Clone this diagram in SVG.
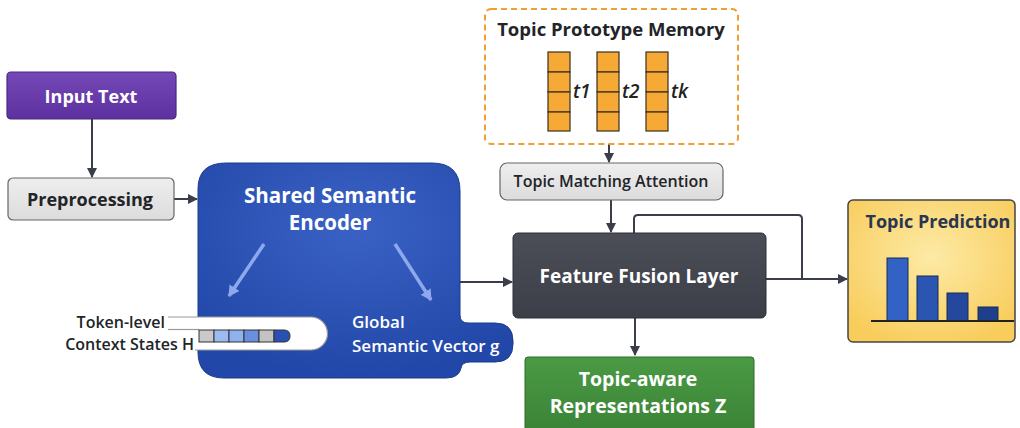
<svg xmlns="http://www.w3.org/2000/svg" width="1020" height="428" viewBox="0 0 1020 428">
<defs>
<linearGradient id="gPurple" x1="0" y1="0" x2="0" y2="1"><stop offset="0" stop-color="#7548b8"/><stop offset="1" stop-color="#5c309f"/></linearGradient>
<linearGradient id="gGray" x1="0" y1="0" x2="0" y2="1"><stop offset="0" stop-color="#eeeeee"/><stop offset="1" stop-color="#dcdcdc"/></linearGradient>
<radialGradient id="gBlue" cx="0.5" cy="0.3" r="0.7"><stop offset="0" stop-color="#3a62c4"/><stop offset="1" stop-color="#2147a8"/></radialGradient>
<linearGradient id="gDark" x1="0" y1="0" x2="0" y2="1"><stop offset="0" stop-color="#4b4d57"/><stop offset="1" stop-color="#3c3e48"/></linearGradient>
<linearGradient id="gGreen" x1="0" y1="0" x2="0" y2="1"><stop offset="0" stop-color="#4a9a44"/><stop offset="1" stop-color="#3a8236"/></linearGradient>
<radialGradient id="gYellow" cx="0.5" cy="0.4" r="0.65"><stop offset="0" stop-color="#fdeaa6"/><stop offset="1" stop-color="#f8cd5c"/></radialGradient>
<marker id="arr" markerWidth="10" markerHeight="10" refX="9" refY="5" orient="auto" markerUnits="userSpaceOnUse"><path d="M0,0 L10,5 L0,10 Z" fill="#3a3d4a"/></marker>
<marker id="arrL" markerWidth="12" markerHeight="12" refX="10" refY="6" orient="auto" markerUnits="userSpaceOnUse"><path d="M0,0 L11,6 L0,12 Z" fill="#8ea8ee"/></marker>
</defs>
<style>
text{font-family:"Open Sans","Liberation Sans",sans-serif;}
.w{fill:#ffffff;font-weight:700;text-anchor:middle;}
.d{fill:#222428;font-weight:700;text-anchor:middle;}
.s{fill:#222428;font-weight:600;}
.con{fill:none;stroke:#3a3d4a;stroke-width:2;}
.cell{fill:#f6a935;stroke:#3a3020;stroke-width:1.2;}
.bar{stroke:#1a2a55;stroke-width:1;}
.lbl{font-size:19px;font-style:italic;font-weight:600;fill:#222;}
</style>
<rect width="1020" height="428" fill="#ffffff"/>

<g id="connectors">
<line class="con" x1="92" y1="119" x2="92" y2="177" marker-end="url(#arr)"/>
<line class="con" x1="174" y1="199" x2="197" y2="199" marker-end="url(#arr)"/>
<line class="con" x1="460" y1="282" x2="512" y2="282" marker-end="url(#arr)"/>
<line class="con" x1="609" y1="144" x2="609" y2="162" marker-end="url(#arr)"/>
<line class="con" x1="611" y1="200" x2="611" y2="232" marker-end="url(#arr)"/>
<path class="con" d="M634,233 V219 Q634,215 638,215 H798 Q802,215 802,219 V279"/>
<line class="con" x1="766" y1="279" x2="847" y2="279" marker-end="url(#arr)"/>
<line class="con" x1="635" y1="318" x2="635" y2="355" marker-end="url(#arr)"/>
</g>

<g id="input-text">
<rect x="7" y="72" width="169" height="47" rx="4" fill="url(#gPurple)" stroke="#4a2880" stroke-width="1.2"/>
<text class="w" x="91" y="103" font-size="18">Input Text</text>
</g>

<g id="preprocessing">
<rect x="8" y="178" width="166" height="42" rx="5" fill="url(#gGray)" stroke="#666" stroke-width="1.2"/>
<text class="d" x="90" y="206" font-size="18">Preprocessing</text>
</g>

<g id="shared-semantic-encoder">
<path d="M226,163 H432 Q460,163 460,191 V315 Q460,323 468,323 H495 Q513,323 513,341 V344 Q513,362 495,362 H470 Q462,362 461,368 Q459,378 446,378 H224 Q198,378 198,352 V189 Q198,163 226,163 Z" fill="url(#gBlue)" stroke="#1a3a8c" stroke-width="1"/>
<text class="w" x="330" y="203" font-size="20.5">Shared Semantic</text>
<text class="w" x="330" y="230" font-size="20.5">Encoder</text>
<line x1="264" y1="244" x2="229" y2="296" stroke="#8ea8ee" stroke-width="3.5" marker-end="url(#arrL)"/>
<line x1="395" y1="244" x2="431" y2="300" stroke="#8ea8ee" stroke-width="3.5" marker-end="url(#arrL)"/>
<text x="352" y="328" font-size="17" font-weight="600" fill="#ffffff">Global</text>
<text x="352" y="352" font-size="17" font-weight="600" fill="#ffffff">Semantic Vector g</text>
</g>

<g id="token-level-context-states">
<path d="M168,317 H311 A16.5,16.5 0 0 1 311,350 H195" fill="#ffffff" stroke="#9a9a9a" stroke-width="1.2"/>
<rect x="196" y="318" width="10" height="31" fill="#ffffff"/>
<line x1="168" y1="329.5" x2="199" y2="329.5" stroke="#9a9a9a" stroke-width="1.2"/>
<rect x="199" y="330" width="15" height="12" fill="#c9c9c9" stroke="#333" stroke-width="1"/>
<rect x="214" y="330" width="15" height="12" fill="#9dbbf3" stroke="#333" stroke-width="1"/>
<rect x="229" y="330" width="15" height="12" fill="#90b0f0" stroke="#333" stroke-width="1"/>
<rect x="244" y="330" width="15" height="12" fill="#6b8fe0" stroke="#333" stroke-width="1"/>
<rect x="259" y="330" width="15" height="12" fill="#c3c3c3" stroke="#333" stroke-width="1"/>
<path d="M274,330 H284 Q290,330 290,336 Q290,342 284,342 H274 Z" fill="#2a4fb5" stroke="#333" stroke-width="1"/>
<text class="s" x="165" y="328" font-size="16" text-anchor="end">Token-level</text>
<text class="s" x="194" y="350" font-size="16" text-anchor="end">Context States H</text>
</g>

<g id="topic-prototype-memory">
<rect x="485" y="9" width="253" height="135" rx="6" fill="#ffffff" stroke="#f0a030" stroke-width="2" stroke-dasharray="6,4"/>
<text class="d" x="611" y="36" font-size="18.5">Topic Prototype Memory</text>
<rect class="cell" x="548" y="52" width="22" height="20"/>
<rect class="cell" x="548" y="72" width="22" height="20"/>
<rect class="cell" x="548" y="92" width="22" height="20"/>
<rect class="cell" x="548" y="112" width="22" height="19"/>
<rect class="cell" x="597" y="52" width="22" height="20"/>
<rect class="cell" x="597" y="72" width="22" height="20"/>
<rect class="cell" x="597" y="92" width="22" height="20"/>
<rect class="cell" x="597" y="112" width="22" height="19"/>
<rect class="cell" x="646" y="52" width="22" height="20"/>
<rect class="cell" x="646" y="72" width="22" height="20"/>
<rect class="cell" x="646" y="92" width="22" height="20"/>
<rect class="cell" x="646" y="112" width="22" height="19"/>
<text class="lbl" x="573" y="98">t1</text>
<text class="lbl" x="622" y="98">t2</text>
<text class="lbl" x="671" y="98">tk</text>
</g>

<g id="topic-matching-attention">
<rect x="500" y="163" width="223" height="37" rx="7" fill="url(#gGray)" stroke="#666" stroke-width="1.2"/>
<text class="s" x="611" y="187" font-size="16" text-anchor="middle">Topic Matching Attention</text>
</g>

<g id="feature-fusion-layer">
<rect x="513" y="233" width="253" height="85" rx="5" fill="url(#gDark)" stroke="#2e3038" stroke-width="1"/>
<text class="w" x="639" y="283" font-size="19">Feature Fusion Layer</text>
</g>

<g id="topic-aware-representations">
<rect x="525" y="357" width="229" height="80" rx="3" fill="url(#gGreen)" stroke="#2e6a2a" stroke-width="1"/>
<text class="w" x="638" y="386" font-size="19.5">Topic-aware</text>
<text class="w" x="638" y="413" font-size="19.5">Representations Z</text>
</g>

<g id="topic-prediction">
<rect x="848" y="200" width="167" height="142" rx="5" fill="url(#gYellow)" stroke="#444" stroke-width="1.5"/>
<text x="938" y="228" font-size="18" font-weight="700" fill="#2a3550" text-anchor="middle">Topic Prediction</text>
<rect class="bar" x="887" y="258" width="21" height="63" fill="#3262c4"/>
<rect class="bar" x="917" y="276" width="21" height="45" fill="#2a55b0"/>
<rect class="bar" x="947" y="293" width="21" height="28" fill="#24499c"/>
<rect class="bar" x="978" y="307" width="20" height="14" fill="#1f3f8a"/>
<line x1="871" y1="321" x2="1014" y2="321" stroke="#222" stroke-width="2"/>
</g>
</svg>
